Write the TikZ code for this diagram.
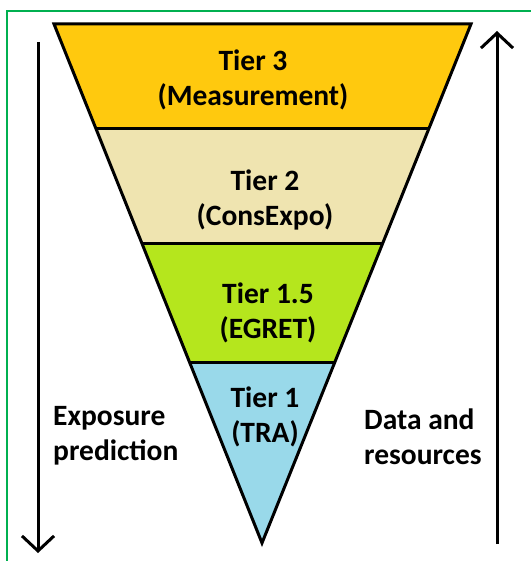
\documentclass[tikz,border=0pt]{standalone}
\usepackage{fontspec}
\setmainfont{Carlito}
\usepackage{xcolor}
\usepackage{tikz}
\usetikzlibrary{
  arrows.meta, calc
}
\definecolor{tierThree}{RGB}{255,201,14}
\definecolor{tierTwo}{RGB}{239,228,176}
\definecolor{tierOneHalf}{RGB}{181,230,29}
\definecolor{tierOne}{RGB}{153,217,234}
\definecolor{frameGreen}{RGB}{0,176,80}

\begin{document}
\begin{tikzpicture}[x=1pt,y=-1pt,
  tierlabel/.style={font=\fontsize{29.5}{35}\selectfont\bfseries, align=center, inner sep=0pt},
  sidelabel/.style={font=\fontsize{29.5}{35}\selectfont\bfseries, align=left, inner sep=0pt, anchor=west},
  flow/.style={line width=3pt, -{Straight Barb[length=15pt,width=32pt]}}]
  \useasboundingbox (0,0) rectangle (531,561);
  \draw[frameGreen,line width=2.2pt] (7,561) -- (7,11) -- (531,11);
  \coordinate (tl) at (54,24);
  \coordinate (tr) at (471,24);
  \coordinate (tip) at (262,543);
  \foreach \name/\t in {a/0.2004, b/0.4220, c/0.6513} {
    \coordinate (\name l) at ($(tl)!\t!(tip)$);
    \coordinate (\name r) at ($(tr)!\t!(tip)$);
  }
  \fill[tierThree] (tl) -- (tr) -- (ar) -- (al) -- cycle;
  \fill[tierTwo] (al) -- (ar) -- (br) -- (bl) -- cycle;
  \fill[tierOneHalf] (bl) -- (br) -- (cr) -- (cl) -- cycle;
  \fill[tierOne] (cl) -- (cr) -- (tip) -- cycle;
  \draw[line width=3pt] (tl) -- (tr) -- (tip) -- cycle;
  \foreach \name in {a,b,c} {
    \draw[line width=3pt] (\name l) -- (\name r);
  }
  \node[tierlabel] (tier3) at (253,80) {Tier 3\\(Measurement)};
  \node[tierlabel] (tier2) at (265,200) {Tier 2\\(ConsExpo)};
  \node[tierlabel] (tier15) at (268,313) {Tier 1.5\\(EGRET)};
  \node[tierlabel] (tier1) at (265,417) {Tier 1\\(TRA)};
  \node[sidelabel] (exposure) at (53,436) {Exposure\\prediction};
  \node[sidelabel] (data) at (364,437) {Data and\\resources};
  \coordinate (predTop) at (38,42);
  \coordinate (predEnd) at (38,553);
  \coordinate (resBase) at (497,544);
  \coordinate (resEnd) at (497,31);
  \draw[flow] (predTop) -- (predEnd);
  \draw[flow] (resBase) -- (resEnd);
\end{tikzpicture}
\end{document}
